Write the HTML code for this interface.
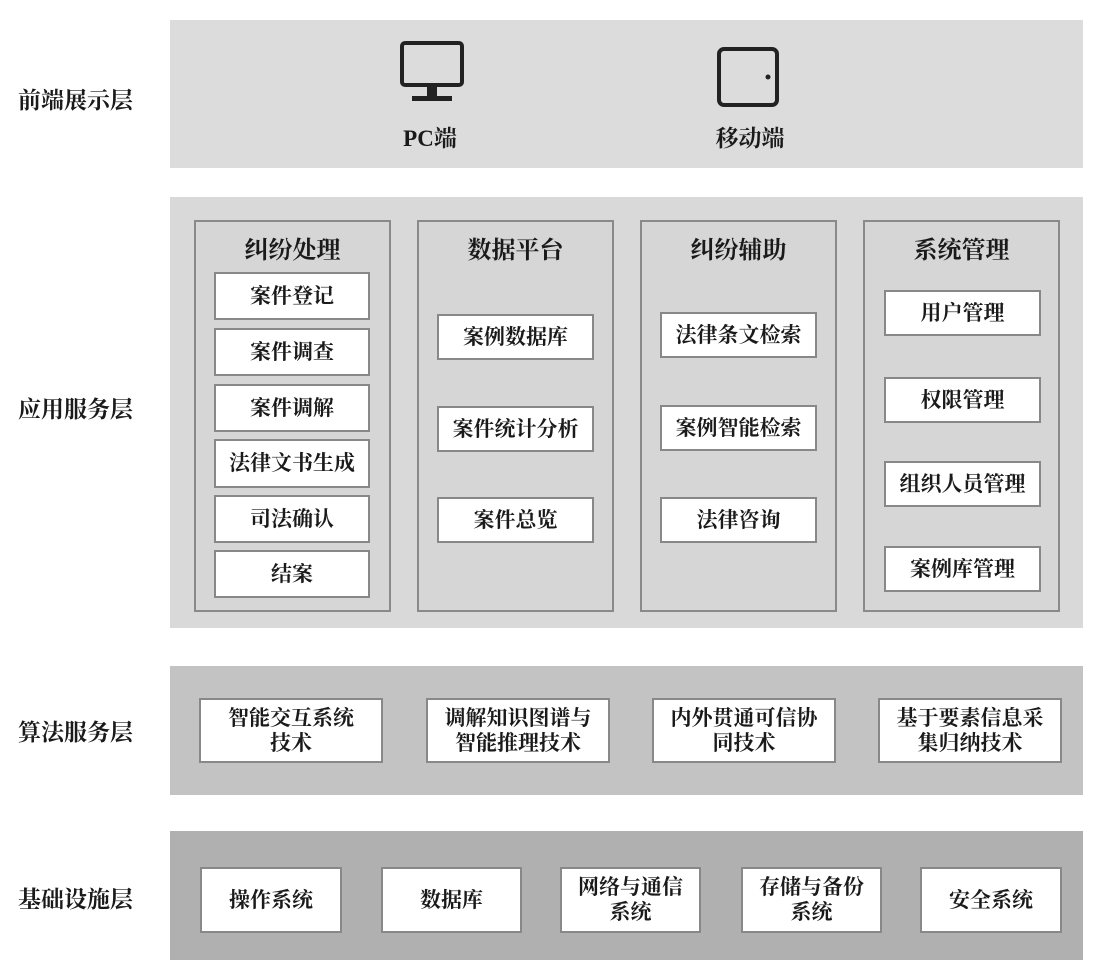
<!DOCTYPE html>
<html><head><meta charset="utf-8"><style>
body{margin:0;width:1107px;height:975px;background:#fff;position:relative;font-family:"Liberation Serif","Noto Serif CJK SC","Noto Sans CJK SC",serif;color:#1a1a1a;overflow:hidden;font-weight:bold}
.a{position:absolute;box-sizing:border-box}
.band{position:absolute}
.lbl{position:absolute;left:18px;font-size:23px;line-height:26px}
.col{position:absolute;border:2px solid #8a8a8a;background:#d6d6d6;box-sizing:border-box}
.hd{position:absolute;left:0;right:0;top:8px;text-align:center;font-size:24px}
.b{position:absolute;background:#fff;border:2px solid #888;box-sizing:border-box;display:flex;align-items:center;justify-content:center;text-align:center;font-size:21px;line-height:25px}
</style></head><body>
<div class="band" style="left:170px;top:20px;width:913px;height:148px;background:#dcdcdc"></div>
<div class="band" style="left:170px;top:197px;width:913px;height:431px;background:#d9d9d9"></div>
<div class="band" style="left:170px;top:666px;width:913px;height:129px;background:#c3c3c3"></div>
<div class="band" style="left:170px;top:831px;width:913px;height:129px;background:#b0b0b0"></div>

<div class="lbl" style="top:88px">前端展示层</div>
<div class="lbl" style="top:397px">应用服务层</div>
<div class="lbl" style="top:720px">算法服务层</div>
<div class="lbl" style="top:887px">基础设施层</div>

<svg class="a" style="left:398px;top:40px" width="70" height="68" viewBox="0 0 70 68">
<rect x="4" y="3" width="60" height="42" rx="3" fill="none" stroke="#222" stroke-width="4"/>
<rect x="29" y="45" width="10" height="12" fill="#222"/>
<rect x="14" y="56" width="40" height="5" fill="#222"/>
</svg>
<svg class="a" style="left:716px;top:46px" width="66" height="62" viewBox="0 0 66 62">
<rect x="3" y="3" width="58" height="56" rx="5" fill="none" stroke="#222" stroke-width="4"/>
<circle cx="52" cy="31" r="2.5" fill="#222"/>
</svg>
<div class="a" style="left:380px;top:120px;width:100px;text-align:center;font-size:23px">PC端</div>
<div class="a" style="left:700px;top:120px;width:100px;text-align:center;font-size:23px">移动端</div>

<div class="col" style="left:194px;top:220px;width:197px;height:392px"><div class="hd">纠纷处理</div></div>
<div class="col" style="left:417px;top:220px;width:197px;height:392px"><div class="hd">数据平台</div></div>
<div class="col" style="left:640px;top:220px;width:197px;height:392px"><div class="hd">纠纷辅助</div></div>
<div class="col" style="left:863px;top:220px;width:197px;height:392px"><div class="hd">系统管理</div></div>

<div class="b" style="left:214px;top:272px;width:156px;height:48px">案件登记</div>
<div class="b" style="left:214px;top:328px;width:156px;height:48px">案件调查</div>
<div class="b" style="left:214px;top:384px;width:156px;height:48px">案件调解</div>
<div class="b" style="left:214px;top:439px;width:156px;height:49px">法律文书生成</div>
<div class="b" style="left:214px;top:495px;width:156px;height:48px">司法确认</div>
<div class="b" style="left:214px;top:550px;width:156px;height:48px">结案</div>

<div class="b" style="left:437px;top:314px;width:157px;height:46px">案例数据库</div>
<div class="b" style="left:437px;top:406px;width:157px;height:46px">案件统计分析</div>
<div class="b" style="left:437px;top:497px;width:157px;height:46px">案件总览</div>

<div class="b" style="left:660px;top:312px;width:157px;height:46px">法律条文检索</div>
<div class="b" style="left:660px;top:405px;width:157px;height:46px">案例智能检索</div>
<div class="b" style="left:660px;top:497px;width:157px;height:46px">法律咨询</div>

<div class="b" style="left:884px;top:290px;width:157px;height:46px">用户管理</div>
<div class="b" style="left:884px;top:377px;width:157px;height:46px">权限管理</div>
<div class="b" style="left:884px;top:461px;width:157px;height:46px">组织人员管理</div>
<div class="b" style="left:884px;top:546px;width:157px;height:46px">案例库管理</div>

<div class="b" style="left:199px;top:698px;width:184px;height:65px">智能交互系统<br>技术</div>
<div class="b" style="left:426px;top:698px;width:184px;height:65px">调解知识图谱与<br>智能推理技术</div>
<div class="b" style="left:652px;top:698px;width:184px;height:65px">内外贯通可信协<br>同技术</div>
<div class="b" style="left:878px;top:698px;width:184px;height:65px">基于要素信息采<br>集归纳技术</div>

<div class="b" style="left:200px;top:867px;width:142px;height:66px">操作系统</div>
<div class="b" style="left:381px;top:867px;width:141px;height:66px">数据库</div>
<div class="b" style="left:560px;top:867px;width:141px;height:66px">网络与通信<br>系统</div>
<div class="b" style="left:741px;top:867px;width:141px;height:66px">存储与备份<br>系统</div>
<div class="b" style="left:920px;top:867px;width:142px;height:66px">安全系统</div>
</body></html>
